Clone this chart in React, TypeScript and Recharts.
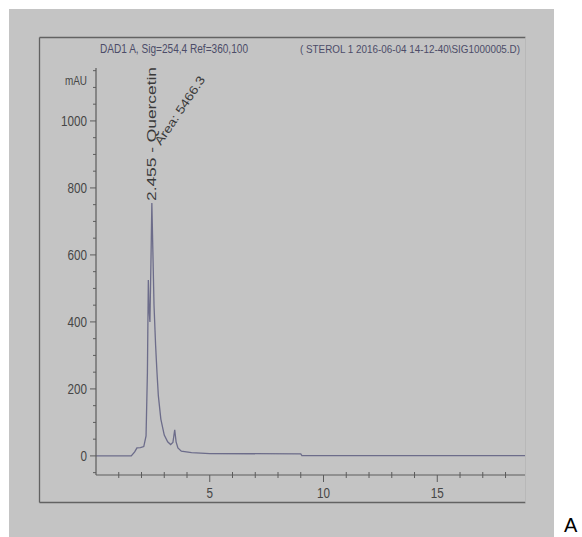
import { LineChart, Line, XAxis, YAxis, ReferenceDot } from 'recharts';

// retention time (min) and absorbance (mAU)
const times = [0, 1.55, 1.7, 1.8, 1.95, 2.1, 2.2, 2.26, 2.3, 2.33, 2.37, 2.42, 2.455, 2.5, 2.55, 2.62, 2.68, 2.74, 2.85, 3.0, 3.15, 3.28, 3.38, 3.46, 3.52, 3.6, 3.75, 4.2, 5, 9, 9.05, 18.9];
const mau = [0, 0, 12, 24, 25, 28, 60, 250, 525, 440, 400, 600, 755, 610, 450, 330, 250, 180, 110, 62, 42, 34, 40, 78, 42, 24, 14, 10, 7, 6, 1, 1];

const yTicks = [-50, 0, 50, 100, 150, 200, 250, 300, 350, 400, 450, 500, 550, 600, 650, 700, 750, 800, 850, 900, 950, 1000, 1050, 1100, 1150];
const yLabelled = [0, 200, 400, 600, 800, 1000];
const xTicks = [1, 2, 3, 4, 5, 6, 7, 8, 9, 10, 11, 12, 13, 14, 15, 16, 17, 18];
const xLabelled = [5, 10, 15];

const peak = { t: 2.455, v: 755, name: '2.455 - Quercetin', area: 'Area: 5466.3' };
const titleLeft = 'DAD1 A, Sig=254,4 Ref=360,100';
const titleRight = '( STEROL 1 2016-06-04 14-12-40\\SIG1000005.D)';

const data = times.map((t, i) => ({ t, mau: mau[i] }));

const FONT = '"Liberation Sans", Arial, sans-serif';
const AXIS = '#5c5c5c';
const TEXT = '#464646';

const YTick = ({ x, y, payload }: any) => {
  const major = yLabelled.includes(payload.value);
  const s = String(payload.value);
  return (
    <g>
      <line x1={x - (major ? 6 : 3)} x2={x} y1={y} y2={y} stroke={AXIS} strokeWidth={1} />
      {major && (
        <text x={x - 9 - s.length * 6.5} y={y} dy={5} fontSize={14} fontFamily={FONT} fill={TEXT} textLength={s.length * 6.5} lengthAdjust="spacingAndGlyphs">
          {s}
        </text>
      )}
    </g>
  );
};

const XTick = ({ x, y, payload }: any) => {
  const major = xLabelled.includes(payload.value);
  const s = String(payload.value);
  return (
    <g>
      <line x1={x} x2={x} y1={major ? y : y - 3} y2={major ? y + 7 : y + 3} stroke={AXIS} strokeWidth={1} />
      {major && (
        <text x={x - (s.length * 6.5) / 2} y={y + 23} fontSize={14} fontFamily={FONT} fill={TEXT} textLength={s.length * 6.5} lengthAdjust="spacingAndGlyphs">
          {s}
        </text>
      )}
    </g>
  );
};

const PeakLabel = ({ viewBox }: any) => {
  const cx = viewBox.x + viewBox.width / 2;
  const cy = viewBox.y + viewBox.height / 2;
  return (
    <g fontFamily={FONT} fontSize={12} fill="#3a3a3a">
      <text x={cx + 4} y={cy - 2} transform={`rotate(-90, ${cx + 4}, ${cy - 2})`} textLength={134} lengthAdjust="spacingAndGlyphs">
        {peak.name}
      </text>
      <text x={cx + 9} y={cy - 57} transform={`rotate(-56, ${cx + 9}, ${cy - 57})`} textLength={80} lengthAdjust="spacingAndGlyphs">
        {peak.area}
      </text>
    </g>
  );
};

const MauLabel = ({ viewBox }: any) => (
  <text x={viewBox.x + viewBox.width - 31} y={viewBox.y + 17} fontSize={13} fontFamily={FONT} fill={TEXT} textLength={22} lengthAdjust="spacingAndGlyphs">
    mAU
  </text>
);

export default function App() {
  return (
    <div style={{ position: 'absolute', left: 0, top: 0, width: 582, height: 537, background: '#fff', overflow: 'hidden' }}>
      <div style={{ position: 'absolute', left: 9, top: 9, width: 545, height: 528, background: '#c4c4c4' }} />
      <div style={{ position: 'absolute', left: 9, top: 9 }}>
        <LineChart width={545} height={528} data={data} margin={{ top: 59, right: 28, bottom: 32, left: 27 }}>
          <XAxis
            dataKey="t"
            type="number"
            domain={[0, 18.9]}
            ticks={xTicks}
            interval={0}
            height={30}
            tickSize={0}
            tickMargin={0}
            tickLine={false}
            axisLine={{ stroke: AXIS, strokeWidth: 1.2 }}
            tick={<XTick />}
            allowDataOverflow
          />
          <YAxis
            type="number"
            domain={[-57, 1158]}
            ticks={yTicks}
            interval={0}
            width={60}
            tickSize={0}
            tickMargin={0}
            tickLine={false}
            axisLine={{ stroke: AXIS, strokeWidth: 1.2 }}
            tick={<YTick />}
            label={<MauLabel />}
            allowDataOverflow
          />
          <Line type="linear" dataKey="mau" stroke="#6c6c8a" strokeWidth={1.3} dot={false} isAnimationActive={false} />
          <ReferenceDot x={peak.t} y={peak.v} r={0.5} fill="none" stroke="none" label={<PeakLabel />} />
        </LineChart>
      </div>
      <svg width={582} height={537} style={{ position: 'absolute', left: 0, top: 0, pointerEvents: 'none' }}>
        <line x1={39.5} y1={37.5} x2={525.5} y2={37.5} stroke="#626262" strokeWidth={1.3} />
        <line x1={39.5} y1={37.5} x2={39.5} y2={502.5} stroke="#626262" strokeWidth={1.3} />
        <line x1={39.5} y1={502.5} x2={525.5} y2={502.5} stroke="#626262" strokeWidth={1.3} />
        <line x1={525.5} y1={37.5} x2={525.5} y2={502.5} stroke="#b8b8b8" strokeWidth={1} />
        <text x={100} y={53} fontSize={12} fontFamily={FONT} fill="#4c4c68" textLength={148} lengthAdjust="spacingAndGlyphs">
          {titleLeft}
        </text>
        <text x={300} y={53} fontSize={11} fontFamily={FONT} fill="#4c4c68" textLength={220} lengthAdjust="spacingAndGlyphs">
          {titleRight}
        </text>
      </svg>
      <div style={{ position: 'absolute', left: 564, top: 514, fontFamily: 'Arial, "Liberation Sans", sans-serif', fontSize: 20, color: '#000' }}>
        A
      </div>
    </div>
  );
}
